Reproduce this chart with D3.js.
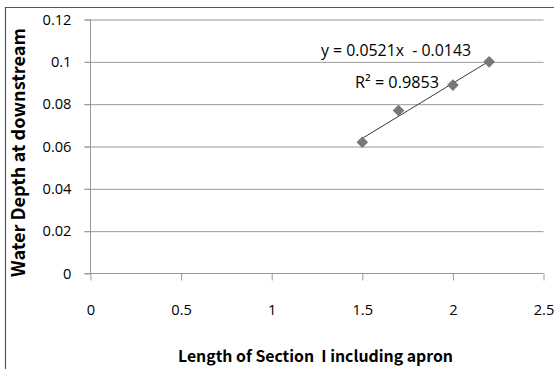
<!DOCTYPE html>
<html>
<head>
<meta charset="utf-8">
<script src="https://cdn.jsdelivr.net/npm/d3@7"></script>
<style>
  html, body { margin: 0; padding: 0; background: #fff; }
  svg { display: block; }
  text { font-family: "Open Sans", "Noto Sans", sans-serif; fill: #000; }
  .title { font-family: "Noto Sans CJK KR", "Noto Sans", sans-serif; font-weight: bold; }
</style>
</head>
<body>
<script>
// Measured section lengths and corresponding downstream water depths
const sectionLength = [1.5, 1.7, 2.0, 2.2];
const waterDepth = [0.062, 0.077, 0.089, 0.100];

// Linear trendline as reported on the chart
const trendSlope = 0.0521;
const trendIntercept = -0.0143;
const trendR2 = 0.9853;

const xTicks = [0, 0.5, 1, 1.5, 2, 2.5];
const yTicks = [0, 0.02, 0.04, 0.06, 0.08, 0.1, 0.12];

const xTitle = "Length of Section  I including apron";
const yTitle = "Water Depth at downstream";

const W = 554, H = 369;
const svg = d3.select("body").append("svg").attr("width", W).attr("height", H);

// size a text element so that it spans the given width
function fitWidth(sel, width) {
  sel.style("font-size", "20px");
  const len = sel.node().getComputedTextLength();
  const size = 20 * width / len;
  sel.style("font-size", size.toFixed(2) + "px");
  return size;
}

// chart frame (right and bottom edges lie outside the view)
svg.append("path")
  .attr("d", `M5.5,${H + 2} V7.5 H${W + 2}`)
  .attr("fill", "none").attr("stroke", "#555").attr("stroke-width", 1.2);

const x = d3.scaleLinear().domain([0, 2.5]).range([90.5, 543.5]);
const y = d3.scaleLinear().domain([0, 0.12]).range([273.5, 19.5]);

const grid = "#999";

// horizontal gridlines with small ticks to the left of the value axis
svg.append("g")
  .attr("transform", `translate(${x(0)},0)`)
  .call(d3.axisLeft(y).tickValues(yTicks.filter(v => v > 0))
    .tickSize(-(x(2.5) - x(0)))
    .tickFormat(""))
  .call(g => g.select(".domain").remove())
  .call(g => g.selectAll(".tick line").attr("stroke", grid).attr("x1", -6));

// vertical value axis line with labels
const yAxis = svg.append("g")
  .attr("transform", `translate(${x(0)},0)`)
  .call(d3.axisLeft(y).tickValues(yTicks).tickSize(6).tickPadding(13)
    .tickFormat(d => d === 0 ? "0" : String(+d.toFixed(2))));
yAxis.select(".domain").attr("stroke", grid).attr("d", `M0,${y(0)}V${y(0.12)}`);
yAxis.selectAll(".tick line").attr("stroke", grid);

// horizontal axis
const xAxis = svg.append("g")
  .attr("transform", `translate(0,${y(0)})`)
  .call(d3.axisBottom(x).tickValues(xTicks).tickSize(7).tickPadding(24)
    .tickFormat(d => String(d)));
xAxis.select(".domain").attr("stroke", grid).attr("d", `M${x(0) - 6},0H${x(2.5)}`);
xAxis.selectAll(".tick line").attr("stroke", grid);

// common tick label size, based on the widest value label
const widest = yAxis.selectAll(".tick text").filter(d => d === 0.12);
const tickSize = fitWidth(widest, 29);
svg.selectAll(".tick text")
  .style("font-size", tickSize.toFixed(2) + "px")
  .style("font-family", "'Open Sans', sans-serif")
  .attr("fill", "#000");

// trendline across the observed range
const xr = d3.extent(sectionLength);
svg.append("line")
  .attr("x1", x(xr[0])).attr("y1", y(trendSlope * xr[0] + trendIntercept))
  .attr("x2", x(xr[1])).attr("y2", y(trendSlope * xr[1] + trendIntercept))
  .attr("stroke", "#3a3a3a").attr("stroke-width", 1);

// diamond markers
const diamond = d3.symbol().type(d3.symbolSquare).size(68);
svg.append("g").selectAll("path")
  .data(sectionLength.map((v, i) => [v, waterDepth[i]]))
  .join("path")
  .attr("d", diamond)
  .attr("transform", d => `translate(${x(d[0])},${y(d[1])}) rotate(45)`)
  .attr("fill", "#777");

// trendline equation and R²
const eq = svg.append("text")
  .attr("x", 396).attr("y", 56).attr("text-anchor", "middle")
  .attr("xml:space", "preserve")
  .text(`y = ${trendSlope}x  - ${Math.abs(trendIntercept)}`);
fitWidth(eq, 150);
const r2 = svg.append("text")
  .attr("x", 397).attr("y", 88).attr("text-anchor", "middle")
  .text(`R² = ${trendR2}`);
fitWidth(r2, 84);

// axis titles
const xt = svg.append("text").attr("class", "title")
  .attr("x", 315.5).attr("y", 362).attr("text-anchor", "middle")
  .attr("xml:space", "preserve")
  .text(xTitle);
fitWidth(xt, 275);
const yt = svg.append("text").attr("class", "title")
  .attr("transform", "translate(25,152.5) rotate(-90)")
  .attr("text-anchor", "middle")
  .text(yTitle);
fitWidth(yt, 249);
</script>
</body>
</html>
